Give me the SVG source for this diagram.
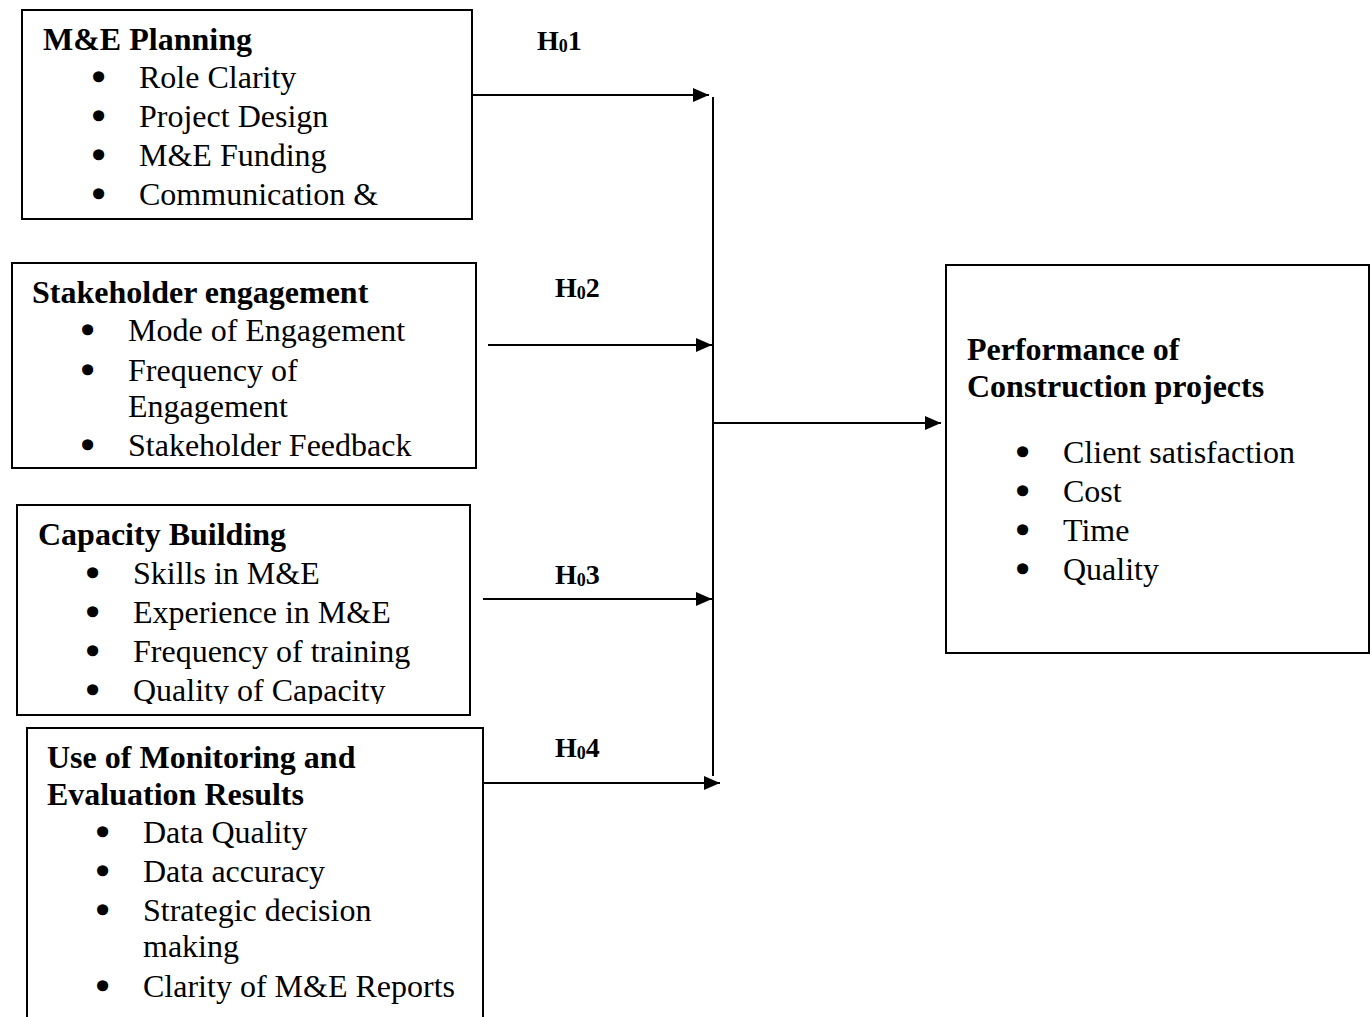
<svg xmlns="http://www.w3.org/2000/svg" width="1372" height="1017" viewBox="0 0 1372 1017">
<style>
text{font-family:"Liberation Serif","Times New Roman",serif;fill:#000}
.h{font-size:32px;font-weight:bold}
.t{font-size:32px}
.b{font-size:32px;stroke:#000;stroke-width:3.5;stroke-linejoin:round}
.lab{font-size:28px;font-weight:bold}
.sub{font-size:18px}
.box{fill:#fff;stroke:#000;stroke-width:2}
.con{stroke:#000;stroke-width:2;fill:none}
</style>
<defs>
<marker id="ah" markerUnits="userSpaceOnUse" markerWidth="16" markerHeight="14" refX="16" refY="7" orient="auto">
<path d="M0,0 L16,7 L0,14 Z" fill="#000"/>
</marker>
<clipPath id="c3"><rect x="17" y="505" width="453" height="199"/></clipPath>
</defs>
<g id="connectors">
<line class="con" x1="713" y1="97" x2="713" y2="776" stroke-width="1.5"/>
<line class="con" x1="472" y1="95" x2="709" y2="95" marker-end="url(#ah)"/>
<line class="con" x1="488" y1="345" x2="712" y2="345" marker-end="url(#ah)"/>
<line class="con" x1="483" y1="599" x2="712" y2="599" marker-end="url(#ah)"/>
<line class="con" x1="483" y1="783" x2="720" y2="783" marker-end="url(#ah)"/>
<line class="con" x1="713" y1="423" x2="941" y2="423" marker-end="url(#ah)"/>
<text class="lab" x="537" y="50">H<tspan class="sub" dy="2">0</tspan><tspan dy="-2">1</tspan></text>
<text class="lab" x="555" y="297">H<tspan class="sub" dy="2">0</tspan><tspan dy="-2">2</tspan></text>
<text class="lab" x="555" y="584">H<tspan class="sub" dy="2">0</tspan><tspan dy="-2">3</tspan></text>
<text class="lab" x="555" y="757">H<tspan class="sub" dy="2">0</tspan><tspan dy="-2">4</tspan></text>
</g>
<g id="node-planning">
<rect class="box" x="22" y="10" width="450" height="209"/>
<text class="h" x="43" y="50">M&amp;E Planning</text>
<text class="b" x="93" y="88">•</text><text class="t" x="139" y="88">Role Clarity</text>
<text class="b" x="93" y="127">•</text><text class="t" x="139" y="127">Project Design</text>
<text class="b" x="93" y="166">•</text><text class="t" x="139" y="166">M&amp;E Funding</text>
<text class="b" x="93" y="205">•</text><text class="t" x="139" y="205">Communication &amp;</text>
</g>
<g id="node-stakeholder">
<rect class="box" x="12" y="263" width="464" height="205"/>
<text class="h" x="32" y="303">Stakeholder engagement</text>
<text class="b" x="82" y="341">•</text><text class="t" x="128" y="341">Mode of Engagement</text>
<text class="b" x="82" y="381">•</text><text class="t" x="128" y="381">Frequency of</text>
<text class="t" x="128" y="417">Engagement</text>
<text class="b" x="82" y="456">•</text><text class="t" x="128" y="456">Stakeholder Feedback</text>
</g>
<g id="node-capacity">
<rect class="box" x="17" y="505" width="453" height="210"/>
<text class="h" x="38" y="545">Capacity Building</text>
<g clip-path="url(#c3)">
<text class="b" x="87" y="584">•</text><text class="t" x="133" y="584">Skills in M&amp;E</text>
<text class="b" x="87" y="623">•</text><text class="t" x="133" y="623">Experience in M&amp;E</text>
<text class="b" x="87" y="662">•</text><text class="t" x="133" y="662">Frequency of training</text>
<text class="b" x="87" y="701">•</text><text class="t" x="133" y="701">Quality of Capacity</text>
</g>
</g>
<g id="node-results">
<rect class="box" x="27" y="728" width="456" height="300"/>
<text class="h" x="47" y="768">Use of Monitoring and</text>
<text class="h" x="47" y="805">Evaluation Results</text>
<text class="b" x="97" y="843">•</text><text class="t" x="143" y="843">Data Quality</text>
<text class="b" x="97" y="882">•</text><text class="t" x="143" y="882">Data accuracy</text>
<text class="b" x="97" y="921">•</text><text class="t" x="143" y="921">Strategic decision</text>
<text class="t" x="143" y="957">making</text>
<text class="b" x="97" y="997">•</text><text class="t" x="143" y="997">Clarity of M&amp;E Reports</text>
</g>
<g id="node-performance">
<rect class="box" x="946" y="265" width="423" height="388"/>
<text class="h" x="967" y="360">Performance of</text>
<text class="h" x="967" y="397">Construction projects</text>
<text class="b" x="1017" y="463">•</text><text class="t" x="1063" y="463">Client satisfaction</text>
<text class="b" x="1017" y="502">•</text><text class="t" x="1063" y="502">Cost</text>
<text class="b" x="1017" y="541">•</text><text class="t" x="1063" y="541">Time</text>
<text class="b" x="1017" y="580">•</text><text class="t" x="1063" y="580">Quality</text>
</g>
</svg>
